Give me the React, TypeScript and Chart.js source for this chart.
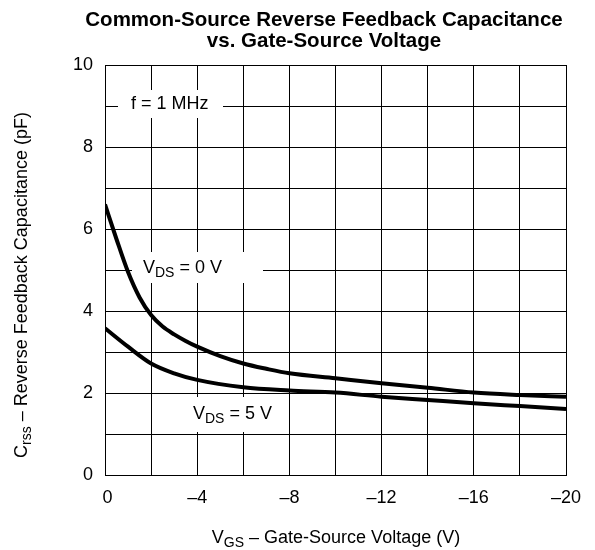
import React, { useEffect, useRef } from "react";
import { Chart, registerables } from "chart.js";

Chart.register(...registerables);

const vgs0: number[] = [0, -0.5, -1, -1.5, -2, -2.5, -3, -3.5, -4, -5, -6, -7, -8, -10, -12, -14, -16, -18, -20];
const crss0: number[] = [6.6, 5.75, 4.95, 4.33, 3.9, 3.62, 3.43, 3.27, 3.13, 2.9, 2.72, 2.59, 2.48, 2.36, 2.24, 2.13, 2.01, 1.95, 1.91];
const vgs5: number[] = [0, -1, -2, -3, -4, -6, -8, -10, -12, -14, -16, -18, -20];
const crss5: number[] = [3.58, 3.13, 2.72, 2.48, 2.32, 2.14, 2.06, 2.01, 1.91, 1.83, 1.75, 1.68, 1.61];

const titleLines = ["Common-Source Reverse Feedback Capacitance", "vs. Gate-Source Voltage"];
const FONT = "'Liberation Sans', Arial, Helvetica, sans-serif";

function drawSub(ctx: CanvasRenderingContext2D, x: number, y: number, parts: [string, boolean][], size: number, align: "left" | "center") {
  const big = `${size}px ${FONT}`;
  const small = `${Math.round(size * 0.75)}px ${FONT}`;
  let total = 0;
  for (const [t, sub] of parts) {
    ctx.font = sub ? small : big;
    total += ctx.measureText(t).width;
  }
  let cx = align === "center" ? x - total / 2 : x;
  ctx.textAlign = "left";
  ctx.textBaseline = "alphabetic";
  for (const [t, sub] of parts) {
    ctx.font = sub ? small : big;
    ctx.fillText(t, cx, sub ? y + size * 0.22 : y);
    cx += ctx.measureText(t).width;
  }
}

const annPlugin = {
  id: "ann",
  beforeDatasetsDraw(chart: any) {
    const ctx: CanvasRenderingContext2D = chart.ctx;
    ctx.save();
    ctx.fillStyle = "#fff";
    ctx.fillRect(118, 90, 105, 28);
    ctx.fillRect(132, 252, 131, 31);
    ctx.fillRect(188, 397, 90, 35);
    ctx.restore();
  },
  afterDraw(chart: any) {
    const ctx: CanvasRenderingContext2D = chart.ctx;
    ctx.save();
    ctx.fillStyle = "#000";
    // title
    ctx.font = `bold 20.5px ${FONT}`;
    ctx.textAlign = "center";
    ctx.textBaseline = "alphabetic";
    ctx.fillText(titleLines[0], 324, 25.5);
    ctx.fillText(titleLines[1], 324, 46.5);
    // annotations
    ctx.font = `18px ${FONT}`;
    ctx.textAlign = "left";
    ctx.fillText("f = 1 MHz", 131, 109);
    drawSub(ctx, 143, 273, [["V", false], ["DS", true], [" = 0 V", false]], 18, "left");
    drawSub(ctx, 193, 419, [["V", false], ["DS", true], [" = 5 V", false]], 18, "left");
    // x title
    drawSub(ctx, 336, 543, [["V", false], ["GS", true], [" – Gate-Source Voltage (V)", false]], 18, "center");
    // y title
    ctx.save();
    ctx.translate(27, 285);
    ctx.rotate(-Math.PI / 2);
    drawSub(ctx, 0, 0, [["C", false], ["rss", true], [" – Reverse Feedback Capacitance (pF)", false]], 18, "center");
    ctx.restore();
    ctx.restore();
  },
};

export default function App() {
  const ref = useRef<HTMLCanvasElement>(null);
  useEffect(() => {
    if (!ref.current) return;
    const chart = new Chart(ref.current, {
      type: "line",
      data: {
        datasets: [
          {
            label: "VDS = 0 V",
            data: vgs0.map((x, i) => ({ x, y: crss0[i] })),
            borderColor: "#000",
            borderWidth: 4,
            pointRadius: 0,
            cubicInterpolationMode: "monotone",
            fill: false,
          },
          {
            label: "VDS = 5 V",
            data: vgs5.map((x, i) => ({ x, y: crss5[i] })),
            borderColor: "#000",
            borderWidth: 4,
            pointRadius: 0,
            cubicInterpolationMode: "monotone",
            fill: false,
          },
        ],
      },
      options: {
        animation: false,
        responsive: true,
        maintainAspectRatio: false,
        layout: { padding: { left: 0, top: 65, right: 29, bottom: 0 } },
        plugins: { legend: { display: false }, title: { display: false }, tooltip: { enabled: false } },
        scales: {
          x: {
            type: "linear",
            min: -20,
            max: 0,
            reverse: true,
            afterFit: (s: any) => { s.height = 75; },
            grid: { color: "#000", lineWidth: 1, drawTicks: false },
            border: { color: "#000", width: 1 },
            ticks: {
              stepSize: 2,
              padding: 12,
              color: "#000",
              font: { family: FONT, size: 18 },
              maxRotation: 0,
              autoSkip: false,
              callback: (v: any) => (v % 4 === 0 ? (v === 0 ? " 0" : "–" + Math.abs(v)) : ""),
            },
          },
          y: {
            type: "linear",
            min: 0,
            max: 10,
            afterFit: (s: any) => { s.width = 105; },
            grid: { color: "#000", lineWidth: 1, drawTicks: false },
            border: { color: "#000", width: 1 },
            ticks: {
              stepSize: 1,
              padding: 12,
              color: "#000",
              font: { family: FONT, size: 18 },
              autoSkip: false,
              callback: (v: any) => (v % 2 === 0 ? String(v) : ""),
            },
          },
        },
      },
      plugins: [annPlugin],
    });
    return () => chart.destroy();
  }, []);
  return (
    <div style={{ position: "fixed", left: 0, top: 0, width: 595, height: 550, background: "#fff" }}>
      <canvas ref={ref} />
    </div>
  );
}
